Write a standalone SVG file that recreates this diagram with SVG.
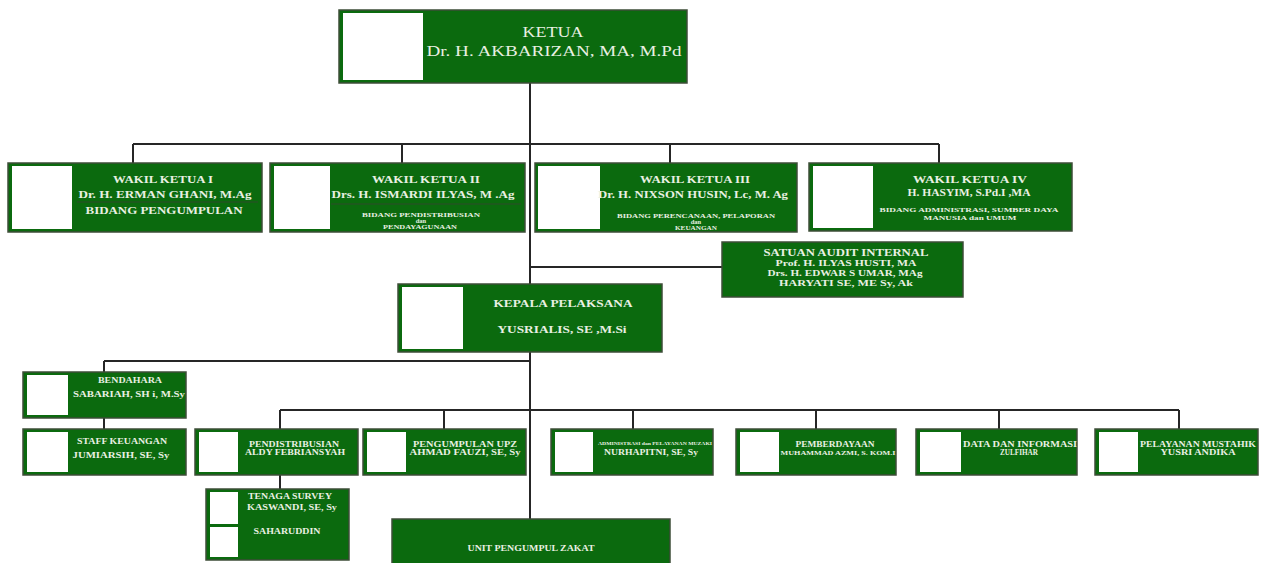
<svg xmlns="http://www.w3.org/2000/svg" width="1266" height="563" viewBox="0 0 1266 563">
<style>
.bg{fill:#ffffff}
.box{fill:#0b6a0e;stroke:#3e4d38;stroke-width:1.5}
.ph{fill:#ffffff}
.sep{stroke:#2e4a2a;stroke-width:1}
.ln{stroke:#262626;stroke-width:2;fill:none}
text{font-family:"Liberation Serif","Times New Roman",serif;fill:#e9f0e2;text-anchor:middle;font-weight:bold}
.n{font-weight:normal}
</style>
<rect class="bg" x="0" y="0" width="1266" height="563"/>
<g id="connectors">
<path class="ln" d="M530 83 V519"/>
<path class="ln" d="M133 144 H939 M133 144 V163 M402 144 V163 M670 144 V163 M939 144 V163"/>
<path class="ln" d="M530 267 H722"/>
<path class="ln" d="M104 361 H530 M104 361 V372 M104 418 V429"/>
<path class="ln" d="M280 410 H1179 M280 410 V429 M444 410 V429 M633 410 V429 M816 410 V429 M999 410 V429 M1179 410 V429"/>
<path class="ln" d="M280 475 V489"/>
</g>
<g id="ketua">
<rect class="box" x="339" y="10" width="348" height="73"/>
<rect class="ph" x="343" y="13" width="80" height="67"/>
<text class="n" x="553" y="37" font-size="15" textLength="61" lengthAdjust="spacingAndGlyphs">KETUA</text>
<text class="n" x="554" y="56" font-size="15" textLength="255" lengthAdjust="spacingAndGlyphs">Dr. H. AKBARIZAN, MA, M.Pd</text>
</g>
<g id="wakil1">
<rect class="box" x="8" y="163" width="254" height="69"/>
<rect class="ph" x="12" y="166" width="60" height="63"/>
<text x="163" y="183" font-size="11" textLength="100" lengthAdjust="spacingAndGlyphs">WAKIL KETUA I</text>
<text x="165" y="198" font-size="11" textLength="173" lengthAdjust="spacingAndGlyphs">Dr. H. ERMAN GHANI, M.Ag</text>
<line class="sep" x1="77" y1="202" x2="258" y2="202"/>
<text x="164" y="214" font-size="11" textLength="157" lengthAdjust="spacingAndGlyphs">BIDANG PENGUMPULAN</text>
</g>
<g id="wakil2">
<rect class="box" x="270" y="163" width="255" height="69"/>
<rect class="ph" x="274" y="166" width="56" height="63"/>
<text x="426" y="183" font-size="11" textLength="108" lengthAdjust="spacingAndGlyphs">WAKIL KETUA II</text>
<text x="423" y="198" font-size="11" textLength="183" lengthAdjust="spacingAndGlyphs">Drs. H. ISMARDI ILYAS, M .Ag</text>
<line class="sep" x1="331" y1="204" x2="521" y2="204"/>
<text x="421" y="217" font-size="6.5" textLength="118" lengthAdjust="spacingAndGlyphs">BIDANG PENDISTRIBUSIAN</text>
<text x="421" y="223" font-size="6.5">dan</text>
<text x="420" y="229" font-size="6.5" textLength="74" lengthAdjust="spacingAndGlyphs">PENDAYAGUNAAN</text>
</g>
<g id="wakil3">
<rect class="box" x="535" y="163" width="262" height="69"/>
<rect class="ph" x="538" y="166" width="62" height="63"/>
<text x="695" y="183" font-size="11" textLength="110" lengthAdjust="spacingAndGlyphs">WAKIL KETUA III</text>
<text x="693" y="198" font-size="11" textLength="190" lengthAdjust="spacingAndGlyphs">Dr. H. NIXSON HUSIN, Lc, M. Ag</text>
<text x="696" y="218" font-size="6.5" textLength="158" lengthAdjust="spacingAndGlyphs">BIDANG PERENCANAAN, PELAPORAN</text>
<text x="696" y="224" font-size="6.5">dan</text>
<text x="696" y="230" font-size="6.5" textLength="42" lengthAdjust="spacingAndGlyphs">KEUANGAN</text>
</g>
<g id="wakil4">
<rect class="box" x="809" y="163" width="263" height="68"/>
<rect class="ph" x="813" y="166" width="60" height="62"/>
<text x="970" y="183" font-size="11" textLength="114" lengthAdjust="spacingAndGlyphs">WAKIL KETUA IV</text>
<text x="969" y="196" font-size="11" textLength="123" lengthAdjust="spacingAndGlyphs">H. HASYIM, S.Pd.I ,MA</text>
<text x="969" y="212" font-size="7" textLength="179" lengthAdjust="spacingAndGlyphs">BIDANG ADMINISTRASI, SUMBER DAYA</text>
<text x="970" y="220" font-size="7" textLength="93" lengthAdjust="spacingAndGlyphs">MANUSIA dan UMUM</text>
</g>
<g id="satuan-audit">
<rect class="box" x="722" y="242" width="241" height="55"/>
<text x="846" y="256" font-size="10.5" textLength="165" lengthAdjust="spacingAndGlyphs">SATUAN AUDIT INTERNAL</text>
<text x="846" y="266" font-size="9" textLength="141" lengthAdjust="spacingAndGlyphs">Prof. H. ILYAS HUSTI, MA</text>
<text x="845" y="276" font-size="9" textLength="155" lengthAdjust="spacingAndGlyphs">Drs. H. EDWAR S UMAR, MAg</text>
<text x="846" y="286" font-size="9" textLength="134" lengthAdjust="spacingAndGlyphs">HARYATI SE, ME Sy, Ak</text>
</g>
<g id="kepala">
<rect class="box" x="398" y="284" width="264" height="68"/>
<rect class="ph" x="402" y="287" width="61" height="62"/>
<text x="563" y="307" font-size="10" textLength="139" lengthAdjust="spacingAndGlyphs">KEPALA PELAKSANA</text>
<text x="562" y="333" font-size="10" textLength="129" lengthAdjust="spacingAndGlyphs">YUSRIALIS, SE ,M.Si</text>
</g>
<g id="bendahara">
<rect class="box" x="23" y="372" width="163" height="46"/>
<rect class="ph" x="27" y="375" width="41" height="40"/>
<text x="130" y="383" font-size="8" textLength="64" lengthAdjust="spacingAndGlyphs">BENDAHARA</text>
<text x="129" y="397" font-size="8" textLength="112" lengthAdjust="spacingAndGlyphs">SABARIAH, SH i, M.Sy</text>
</g>
<g id="staff-keuangan">
<rect class="box" x="23" y="429" width="163" height="46"/>
<rect class="ph" x="27" y="432" width="41" height="40"/>
<text x="122" y="444" font-size="8" textLength="90" lengthAdjust="spacingAndGlyphs">STAFF KEUANGAN</text>
<text x="121" y="458" font-size="8" textLength="97" lengthAdjust="spacingAndGlyphs">JUMIARSIH, SE, Sy</text>
</g>
<g id="pendistribusian">
<rect class="box" x="195" y="429" width="163" height="46"/>
<rect class="ph" x="199" y="432" width="39" height="40"/>
<text x="294" y="447" font-size="8" textLength="90" lengthAdjust="spacingAndGlyphs">PENDISTRIBUSIAN</text>
<text x="295" y="455" font-size="8" textLength="100" lengthAdjust="spacingAndGlyphs">ALDY FEBRIANSYAH</text>
</g>
<g id="pengumpulan-upz">
<rect class="box" x="363" y="429" width="163" height="46"/>
<rect class="ph" x="367" y="432" width="39" height="40"/>
<text x="465" y="447" font-size="8" textLength="104" lengthAdjust="spacingAndGlyphs">PENGUMPULAN UPZ</text>
<text x="465" y="455" font-size="8" textLength="111" lengthAdjust="spacingAndGlyphs">AHMAD FAUZI, SE, Sy</text>
</g>
<g id="administrasi">
<rect class="box" x="551" y="429" width="162" height="46"/>
<rect class="ph" x="555" y="432" width="38" height="40"/>
<text x="655" y="445" font-size="4.5" textLength="114" lengthAdjust="spacingAndGlyphs">ADMINISTRASI dan PELAYANAN MUZAKI</text>
<text x="651" y="455" font-size="8" textLength="94" lengthAdjust="spacingAndGlyphs">NURHAPITNI, SE, Sy</text>
</g>
<g id="pemberdayaan">
<rect class="box" x="736" y="429" width="160" height="46"/>
<rect class="ph" x="740" y="432" width="39" height="40"/>
<text x="835" y="447" font-size="8" textLength="79" lengthAdjust="spacingAndGlyphs">PEMBERDAYAAN</text>
<text x="838" y="455" font-size="6" textLength="115" lengthAdjust="spacingAndGlyphs">MUHAMMAD AZMI, S. KOM.I</text>
</g>
<g id="data-informasi">
<rect class="box" x="916" y="429" width="161" height="46"/>
<rect class="ph" x="920" y="432" width="41" height="40"/>
<text x="1020" y="447" font-size="8" textLength="114" lengthAdjust="spacingAndGlyphs">DATA DAN INFORMASI</text>
<text x="1019" y="455" font-size="8" textLength="38" lengthAdjust="spacingAndGlyphs">ZULFIHAR</text>
</g>
<g id="pelayanan-mustahik">
<rect class="box" x="1095" y="429" width="163" height="46"/>
<rect class="ph" x="1099" y="432" width="39" height="40"/>
<text x="1198" y="447" font-size="8" textLength="116" lengthAdjust="spacingAndGlyphs">PELAYANAN MUSTAHIK</text>
<text x="1198" y="455" font-size="8" textLength="75" lengthAdjust="spacingAndGlyphs">YUSRI ANDIKA</text>
</g>
<g id="tenaga-survey">
<rect class="box" x="206" y="489" width="143" height="71"/>
<rect class="ph" x="210" y="492" width="28" height="32"/>
<rect class="ph" x="210" y="527" width="28" height="30"/>
<text x="290" y="499" font-size="8" textLength="84" lengthAdjust="spacingAndGlyphs">TENAGA SURVEY</text>
<text x="292" y="510" font-size="8" textLength="90" lengthAdjust="spacingAndGlyphs">KASWANDI, SE, Sy</text>
<text x="287" y="534" font-size="8" textLength="67" lengthAdjust="spacingAndGlyphs">SAHARUDDIN</text>
</g>
<g id="unit-pengumpul-zakat">
<rect class="box" x="392" y="519" width="278" height="60"/>
<text x="531" y="551" font-size="7.5" textLength="127" lengthAdjust="spacingAndGlyphs">UNIT PENGUMPUL ZAKAT</text>
</g>
</svg>
